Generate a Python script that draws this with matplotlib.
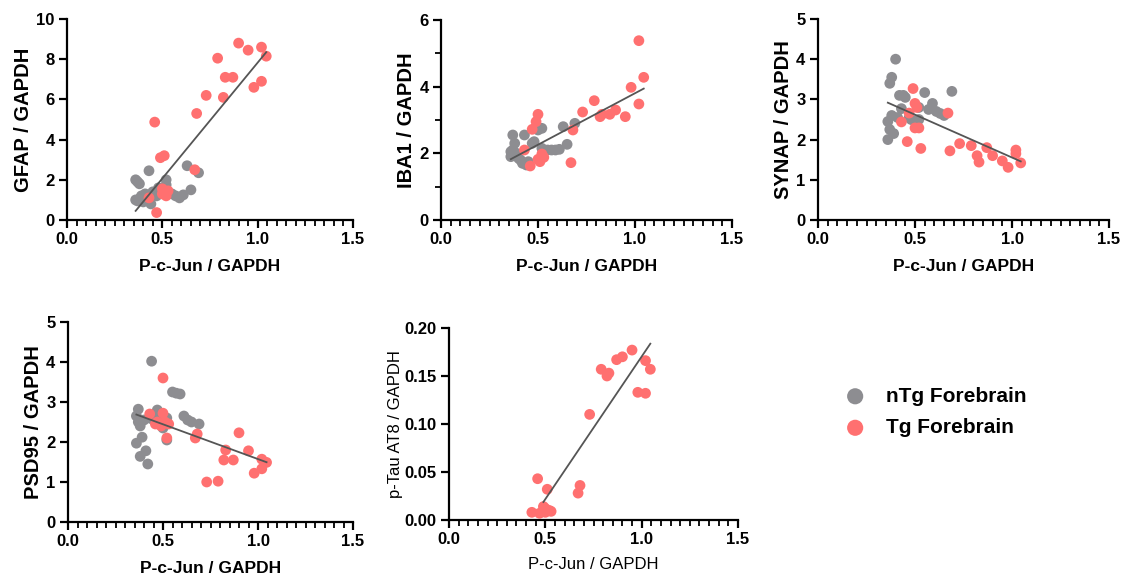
import numpy as np
import matplotlib
matplotlib.use("Agg")
from matplotlib import pyplot as plt
from matplotlib.ticker import MultipleLocator

plt.rcParams['font.family'] = ['Liberation Sans', 'DejaVu Sans']

# P-c-Jun / GAPDH for every sample (x of all panels)
ntg_x = [0.36, 0.36, 0.37, 0.37, 0.38, 0.38, 0.39, 0.40, 0.41, 0.42, 0.43, 0.44, 0.45,
         0.47, 0.48, 0.50, 0.52, 0.52, 0.55, 0.57, 0.59, 0.61, 0.63, 0.65, 0.69]
tg_x = [0.43, 0.46, 0.47, 0.49, 0.50, 0.50, 0.51, 0.52, 0.53, 0.67, 0.68,
        0.73, 0.79, 0.82, 0.83, 0.87, 0.90, 0.95, 0.98, 1.02, 1.02, 1.045]

gfap_ntg = [2.0, 1.0, 1.9, 0.95, 1.8, 1.05, 1.2, 0.9, 1.3, 1.0, 2.45, 0.8, 1.4,
            1.2, 1.6, 1.35, 2.0, 1.75, 1.3, 1.2, 1.1, 1.25, 2.7, 1.5, 2.35]
gfap_tg = [1.1, 4.87, 0.37, 3.1, 1.55, 1.3, 3.2, 1.2, 1.45, 2.5, 5.3,
           6.2, 8.05, 6.1, 7.1, 7.1, 8.8, 8.45, 6.6, 8.6, 6.9, 8.15]

iba1_ntg = [2.05, 1.9, 2.1, 2.55, 2.3, 1.95, 2.0, 1.85, 1.8, 1.7, 2.55, 1.65, 1.75,
            2.3, 2.35, 2.7, 2.75, 2.15, 2.1, 2.1, 2.1, 2.12, 2.8, 2.27, 2.9]
iba1_tg = [2.1, 1.62, 2.72, 2.95, 1.82, 3.17, 1.75, 1.98, 1.88, 1.72, 2.7,
           3.24, 3.58, 3.1, 3.17, 3.17, 3.3, 3.1, 3.98, 5.38, 3.48, 4.28]

synap_ntg = [2.0, 2.45, 3.4, 2.25, 3.55, 2.6, 2.15, 4.0, 2.55, 3.1, 2.77, 3.1, 3.05,
             2.55, 2.5, 2.45, 2.5, 2.8, 3.17, 2.75, 2.9, 2.7, 2.65, 2.6, 3.2]
synap_tg = [2.44, 1.95, 2.66, 3.27, 2.29, 2.9, 2.8, 2.29, 1.78, 2.66, 1.72,
            1.9, 1.85, 1.6, 1.44, 1.8, 1.6, 1.47, 1.31, 1.74, 1.65, 1.42]

psd95_ntg = [2.65, 1.97, 2.82, 2.5, 2.4, 1.64, 2.12, 2.55, 1.78, 1.45, 2.6, 4.02, 2.55,
             2.8, 2.65, 2.35, 2.05, 2.6, 3.25, 3.22, 3.2, 2.65, 2.55, 2.5, 2.45]
psd95_tg = [2.7, 2.45, 2.5, 2.4, 3.6, 2.72, 2.5, 2.1, 2.45, 2.1, 2.2,
            1.0, 1.02, 1.55, 1.8, 1.55, 2.23, 1.78, 1.22, 1.57, 1.33, 1.49]

ptau_tg = [0.008, 0.043, 0.007, 0.014, 0.008, 0.012, 0.032, 0.010, 0.009, 0.028, 0.036,
           0.110, 0.157, 0.150, 0.153, 0.167, 0.170, 0.177, 0.133, 0.166, 0.132, 0.157]

x_ticks = [0.0, 0.5, 1.0, 1.5]

GRAY = '#8d8d91'
RED = '#ff7070'

W, H = 1126, 579
fig = plt.figure(figsize=(W / 100, H / 100), dpi=100)


def box(l, t, r, b):
    return [l / W, 1 - b / H, (r - l) / W, (b - t) / H]


panels = [
    # ylabel, ntg ys, tg ys, ymax, ystep, yminor, rect, bold labels
    ('GFAP / GAPDH', gfap_ntg, gfap_tg, 10, 2, None, box(67, 19, 353, 220), True),
    ('IBA1 / GAPDH', iba1_ntg, iba1_tg, 6, 2, 1, box(441, 20, 732, 220), True),
    ('SYNAP / GAPDH', synap_ntg, synap_tg, 5, 1, None, box(818, 19, 1109, 220), True),
    ('PSD95 / GAPDH', psd95_ntg, psd95_tg, 5, 1, None, box(68, 322, 353, 522), True),
    ('p-Tau AT8 / GAPDH', None, ptau_tg, 0.2, 0.05, None, box(449, 328, 738, 520), False),
]

handles = None
for ylab, yn, yt, ymax, ystep, yminor, rect, bold in panels:
    ax = fig.add_axes(rect)
    fx, fy = list(tg_x), list(yt)
    h1 = None
    if yn is not None:
        h1 = ax.scatter(ntg_x, yn, s=60, color=GRAY, edgecolors='none', zorder=3,
                        clip_on=False, label='nTg Forebrain')
        fx += ntg_x
        fy += yn
    h2 = ax.scatter(tg_x, yt, s=60, color=RED, edgecolors='none', zorder=4,
                    clip_on=False, label='Tg Forebrain')
    if h1 is not None and handles is None:
        handles = [h1, h2]

    # linear regression over the plotted samples
    k, c = np.polyfit(fx, fy, 1)
    xs = np.array([min(fx), max(fx)])
    if yn is None:
        xs = np.array([0.49, max(fx)])
    ax.plot(xs, k * xs + c, color='#555555', lw=1.3, zorder=5)

    yt_pos = np.arange(0, ymax + ystep / 2, ystep)
    fmt = '%.2f' if ymax < 1 else '%d'
    ax.set_yticks(yt_pos)
    ax.set_yticklabels([fmt % v for v in yt_pos])
    ax.set_xticks(x_ticks)
    ax.set_xticklabels(['%.1f' % v for v in x_ticks])
    ax.xaxis.set_minor_locator(MultipleLocator(0.05))
    if yminor:
        ax.yaxis.set_minor_locator(MultipleLocator(yminor))
    ax.set_xlim(0, 1.5)
    ax.set_ylim(0, ymax)

    for s in ('top', 'right'):
        ax.spines[s].set_visible(False)
    for s in ('left', 'bottom'):
        ax.spines[s].set_linewidth(1.6)
    ax.tick_params(which='major', length=6, width=1.6, labelsize=12, pad=3)
    ax.tick_params(which='minor', length=4, width=1.3)
    for lab in ax.get_xticklabels() + ax.get_yticklabels():
        lab.set_fontweight('bold')
    if bold:
        ax.set_xlabel('P-c-Jun / GAPDH', fontsize=12.5, fontweight='bold', labelpad=8)
        ax.set_ylabel(ylab, fontsize=14.5, fontweight='bold', labelpad=2)
    else:
        ax.set_xlabel('P-c-Jun / GAPDH', fontsize=12, labelpad=7)
        ax.set_ylabel(ylab, fontsize=12, labelpad=1)

fig.legend(handles=handles, labels=['nTg Forebrain', 'Tg Forebrain'],
           loc='center left', bbox_to_anchor=(826 / W, 1 - 412 / H), frameon=False,
           prop={'size': 15, 'weight': 'bold'}, markerscale=1.5,
           handletextpad=1.0, labelspacing=0.6, handlelength=1.0)

fig.savefig('out.png', dpi=100)
